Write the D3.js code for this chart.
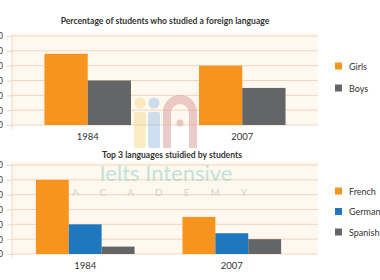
<!DOCTYPE html>
<html>
<head>
<meta charset="utf-8">
<script src="https://cdn.jsdelivr.net/npm/d3@7"></script>
<style>
  html, body { margin: 0; padding: 0; background: #fff; }
  svg { display: block; }
</style>
</head>
<body>
<div id="chart"></div>
<script>
// data
const years = ['1984', '2007'];
const genderSeries = ['Girls', 'Boys'];
const girls = [48, 40];
const boys = [30, 25];
const langSeries = ['French', 'German', 'Spanish'];
const french = [50, 25];
const german = [20, 14];
const spanish = [5, 10];
const yTicks = [0, 10, 20, 30, 40, 50, 60];

const W = 380, H = 280;
const FONT = 'Lato, "Open Sans", sans-serif';
const COL = { orange: '#f7941d', gray: '#646567', blue: '#1f77c0' };

const svg = d3.select('#chart').append('svg')
  .attr('width', W).attr('height', H);

function panel(cfg) {
  const g = svg.append('g');
  const y = d3.scaleLinear().domain([0, 60]).range([cfg.bottom, cfg.top]);
  const x0 = d3.scaleBand().domain(years).range([12, cfg.xRight])
    .paddingInner(cfg.pi).paddingOuter(cfg.po);
  const x1 = d3.scaleBand().domain(cfg.series.map(s => s.name)).range([0, x0.bandwidth()]);

  // plot background
  g.append('rect').attr('x', 12).attr('y', cfg.top - 3)
    .attr('width', 306).attr('height', cfg.bottom - cfg.top + 3)
    .attr('fill', '#fef8ef');

  // grid + left axis (labels run off the left edge, as in the source)
  const ax = g.append('g').attr('transform', 'translate(12,0)')
    .call(d3.axisLeft(y).tickValues(yTicks).tickSize(5).tickPadding(4));
  ax.select('.domain').remove();
  ax.selectAll('line').attr('stroke', '#efd6bf');
  ax.selectAll('text').attr('fill', '#444').attr('font-size', 9).attr('font-family', FONT);
  g.append('g').selectAll('line').data(yTicks).join('line')
    .attr('x1', 12).attr('x2', 318)
    .attr('y1', d => y(d)).attr('y2', d => y(d))
    .attr('stroke', '#efd6bf').attr('stroke-width', 1);
  g.append('line').attr('x1', 12).attr('x2', 12)
    .attr('y1', cfg.top - 2).attr('y2', cfg.bottom + 4)
    .attr('stroke', '#efd6bf');

  // bars
  years.forEach((yr, i) => {
    cfg.series.forEach(s => {
      g.append('rect')
        .attr('x', x0(yr) + x1(s.name))
        .attr('y', y(s.values[i]))
        .attr('width', x1.bandwidth())
        .attr('height', y(0) - y(s.values[i]))
        .attr('fill', s.color);
    });
    g.append('text').text(yr)
      .attr('x', x0(yr) + x0.bandwidth() / 2).attr('y', cfg.bottom + 15)
      .attr('text-anchor', 'middle').attr('fill', '#333')
      .attr('font-size', 9.5).attr('font-family', FONT);
  });

  // title
  g.append('text').text(cfg.title)
    .attr('x', cfg.titleX).attr('y', cfg.titleY).attr('text-anchor', 'middle')
    .attr('fill', '#333').attr('font-size', 8.6).attr('font-weight', 700)
    .attr('font-family', FONT);

  // legend
  cfg.series.forEach((s, i) => {
    const ly = cfg.legendY + i * cfg.legendStep;
    g.append('rect').attr('x', 335).attr('y', ly - 3.5).attr('width', 7).attr('height', 7)
      .attr('fill', s.color);
    g.append('text').text(s.name).attr('x', 349).attr('y', ly + 3.5)
      .attr('fill', '#333').attr('font-size', 9).attr('font-family', FONT);
  });
}

panel({
  top: 36, bottom: 125, xRight: 318, pi: 0.44, po: 0.21,
  title: 'Percentage of students who studied a foreign language', titleX: 165, titleY: 24,
  legendY: 66, legendStep: 22,
  series: [
    { name: genderSeries[0], values: girls, color: COL.orange },
    { name: genderSeries[1], values: boys, color: COL.gray }
  ]
});

panel({
  top: 165, bottom: 254, xRight: 305, pi: 0.327, po: 0.163,
  title: 'Top 3 languages stuidied by students', titleX: 172, titleY: 158,
  legendY: 191, legendStep: 20.5,
  series: [
    { name: langSeries[0], values: french, color: COL.orange },
    { name: langSeries[1], values: german, color: COL.blue },
    { name: langSeries[2], values: spanish, color: COL.gray }
  ]
});

// watermark
const wm = svg.append('g').attr('opacity', 0.5);
wm.append('circle').attr('cx', 140).attr('cy', 103).attr('r', 5.5).attr('fill', '#f6dc8a');
wm.append('circle').attr('cx', 154).attr('cy', 103).attr('r', 5.5).attr('fill', '#9fbfe8');
wm.append('rect').attr('x', 134).attr('y', 112).attr('width', 12).attr('height', 36).attr('rx', 2).attr('fill', '#f6dc8a');
wm.append('rect').attr('x', 148).attr('y', 112).attr('width', 12).attr('height', 36).attr('rx', 2).attr('fill', '#9fbfe8');
wm.append('path').attr('d', 'M163,148 L163,112 A17,17 0 0 1 197,112 L197,148 L189,148 L189,113 A9,9 0 0 0 171,113 L171,148 Z')
  .attr('fill', '#d99a9a');
wm.append('circle').attr('cx', 180).attr('cy', 123).attr('r', 3.5).attr('fill', '#d99a9a');
svg.append('text').text('Ielts Intensive')
  .attr('x', 166).attr('y', 181).attr('text-anchor', 'middle')
  .attr('fill', '#8fd3c8').attr('opacity', 0.55)
  .attr('font-size', 22).attr('font-family', FONT);
svg.append('text').text('ACADEMY')
  .attr('x', 72).attr('y', 196).attr('text-anchor', 'start')
  .attr('fill', '#bbb').attr('opacity', 0.6).attr('letter-spacing', 21)
  .attr('font-size', 10).attr('font-family', FONT);
</script>
</body>
</html>
